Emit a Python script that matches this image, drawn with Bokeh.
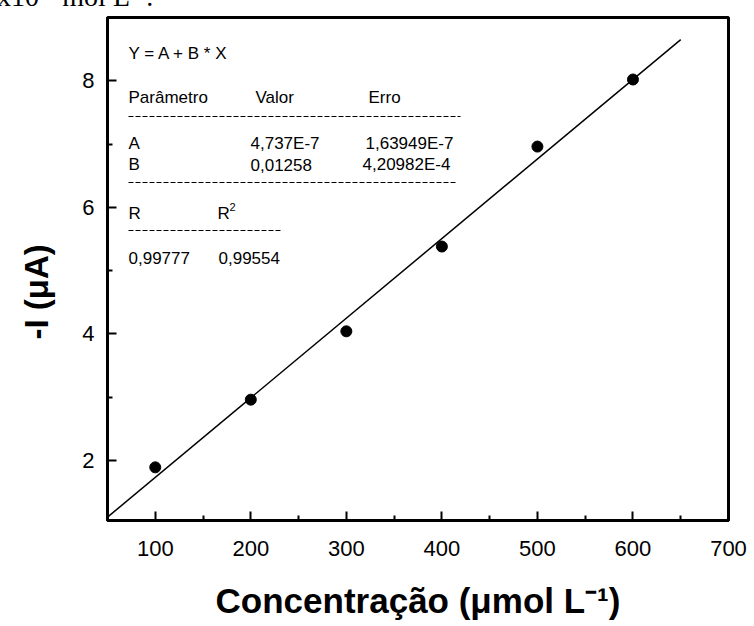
from bokeh.embed import file_html
from bokeh.layouts import column
from bokeh.models import Div, FixedTicker, Label, Range1d
from bokeh.plotting import figure
from bokeh.resources import INLINE

# Calibration data: peak current vs. concentration
conc = [100, 200, 300, 400, 500, 600]          # µmol L-1
current = [1.89, 2.96, 4.04, 5.38, 6.96, 8.02]  # -I (µA)

# Linear fit Y = A + B * X (A given in A, plotted in µA)
fit_a = 4.737e-7 * 1e6
fit_b = 0.01258
fit_span = [50, 650]

# Fit report
fit_params = ["A", "B"]
fit_values = ["4,737E-7", "0,01258"]
fit_errors = ["1,63949E-7", "4,20982E-4"]
fit_r = "0,99777"
fit_r2 = "0,99554"

x_ticks = [100, 200, 300, 400, 500, 600, 700]
x_minor = [150, 250, 350, 450, 550, 650]
y_ticks = [2, 4, 6, 8]
y_minor = [3, 5, 7]

X0, X1 = 50, 700
Y0, Y1 = 1.05, 9.0

W = 754
STRIP_H = 15            # strip of running page text above the chart
H = 626 - STRIP_H
B_LEFT, B_RIGHT, B_TOP, B_BOTTOM = 107, 26, 2, 106
FRAME_W = W - B_LEFT - B_RIGHT
FRAME_H = H - B_TOP - B_BOTTOM


def sx(px):
    """Canvas pixel column -> data x."""
    return X0 + (px - B_LEFT) * (X1 - X0) / FRAME_W


def sy(py):
    """Canvas pixel row (page coordinates) -> data y."""
    return Y1 - (py - STRIP_H - B_TOP) * (Y1 - Y0) / FRAME_H


# --- running text of the page, cut by the top edge -----------------------
strip = Div(
    text=(
        '<div style="position:relative; top:-17px; left:-3px; white-space:nowrap;'
        " font-family:'Liberation Serif'; font-size:28px; line-height:28px; color:black;\">"
        'x10<sup style="font-size:0.7em; line-height:0">-4</sup> mol '
        'L<sup style="font-size:0.7em; line-height:0">-1</sup>.</div>'
    ),
    width=W, height=STRIP_H,
    styles={"overflow": "hidden", "margin": "0", "padding": "0"},
)

# --- calibration plot ------------------------------------------------------
p = figure(
    width=W, height=H,
    x_range=Range1d(X0, X1), y_range=Range1d(Y0, Y1),
    output_backend="svg", toolbar_location=None,
    min_border_left=B_LEFT, min_border_right=B_RIGHT,
    min_border_top=B_TOP, min_border_bottom=B_BOTTOM,
    background_fill_color="white", border_fill_color="white",
)
p.xgrid.visible = False
p.ygrid.visible = False
p.outline_line_color = "black"
p.outline_line_width = 3
p.outline_line_alpha = 1.0

p.xaxis.ticker = FixedTicker(ticks=x_ticks, minor_ticks=x_minor)
p.yaxis.ticker = FixedTicker(ticks=y_ticks, minor_ticks=y_minor)
for ax in (p.xaxis, p.yaxis):
    ax.axis_line_width = 3
    ax.axis_line_color = "black"
    ax.major_tick_in = 9
    ax.major_tick_out = 0
    ax.minor_tick_in = 5
    ax.minor_tick_out = 0
    ax.major_tick_line_width = 2
    ax.minor_tick_line_width = 2
    ax.major_tick_line_color = "black"
    ax.minor_tick_line_color = "black"
    ax.major_label_text_font = "Liberation Sans"
    ax.major_label_text_font_size = "22px"
    ax.major_label_text_color = "black"
    ax.axis_label_text_font = "Liberation Sans"
    ax.axis_label_text_font_style = "bold"
    ax.axis_label_text_color = "black"
p.xaxis.major_label_standoff = 20
p.yaxis.major_label_standoff = 13

# y title sits a little below the frame centre; the trailing no-break
# spaces (at the top of the rotated text) push the visible part down
p.yaxis.axis_label = "-I (μA)" + "\u00a0" * 5
p.yaxis.axis_label_text_font_size = "33px"
p.yaxis.axis_label_standoff = 24

p.xaxis.axis_label = "Concentração (μmol L⁻¹)"
p.xaxis.axis_label_text_font_size = "35px"
p.xaxis.axis_label_standoff = 22

# Fitted line and measured points
p.line(fit_span, [fit_a + fit_b * x for x in fit_span], line_color="black", line_width=1.5)
p.scatter(conc, current, size=11, color="black")


def add_text(px, py, text, size="17px"):
    p.add_layout(Label(
        x=sx(px), y=sy(py), text=text, text_font="Liberation Sans",
        text_font_size=size, text_color="black",
        text_align="left", text_baseline="alphabetic",
    ))


def add_rule(px0, px1, py):
    p.line([sx(px0), sx(px1)], [sy(py), sy(py)], line_color="black",
           line_width=1, line_dash="5 2")


# Fit report box
add_text(128, 53, "Y = A + B * X")
add_text(128, 97, "Parâmetro")
add_text(255, 97, "Valor")
add_text(368, 97, "Erro")
add_rule(128, 460, 116)
for i, (name, val, err) in enumerate(zip(fit_params, fit_values, fit_errors)):
    row = 143 + 21 * i
    add_text(128, row, name)
    add_text(250, row, val)
    add_text(365 - 3 * i, row, err)
add_rule(128, 455, 182)
add_text(128, 213, "R")
add_text(217, 213, "R")
add_text(229, 206, "2", size="11px")
add_rule(128, 282, 230)
add_text(128, 257, fit_r)
add_text(218, 257, fit_r2)

page = column(strip, p, spacing=0)
open("out.html", "w").write(file_html(page, INLINE))
